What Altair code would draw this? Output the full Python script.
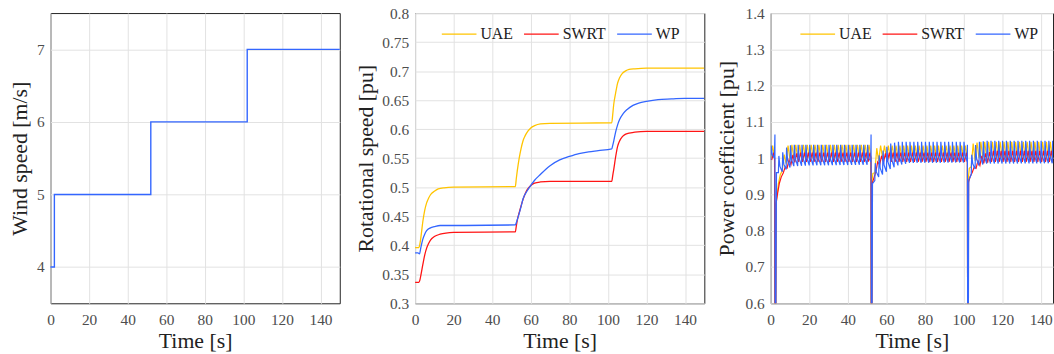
import altair as alt
import numpy as np
import pandas as pd

FONT = "Liberation Serif"
SERIES = ["UAE", "SWRT", "WP"]
COLORS = ["#ffc400", "#ff1414", "#3366ff"]
TIME_TICKS = [0, 20, 40, 60, 80, 100, 120, 140]

# ---- Panel 1: wind speed (step profile) ----
wind_t = [0, 2, 2, 52, 52, 102, 102, 150]
wind_v = [4, 4, 5, 5, 6, 6, 7, 7]

# ---- Panel 2: rotational speed ----
uae_t = [0, 2, 2.5, 3, 4, 5, 6, 7, 8, 10, 12, 15, 20, 52, 52.5, 53, 54, 55, 56, 57, 58, 60, 62, 65, 70,
         102, 102.5, 103, 104, 105, 106, 107.5, 109, 111, 114, 120, 150]
uae_w = [0.396, 0.396, 0.402, 0.413, 0.440, 0.460, 0.473, 0.481, 0.487, 0.493, 0.497, 0.499, 0.500,
         0.501, 0.515, 0.528, 0.550, 0.567, 0.580, 0.588, 0.594, 0.602, 0.606, 0.609, 0.610,
         0.611, 0.625, 0.642, 0.662, 0.679, 0.688, 0.696, 0.700, 0.703, 0.704, 0.705, 0.705]
swrt_t = [0, 2, 2.5, 3, 4, 5, 6, 7, 8, 10, 13, 16, 20, 52, 52.5, 53, 54, 55, 56, 57, 58, 60, 62, 65, 70,
          102, 102.5, 103, 104, 105, 106, 107.5, 109, 111, 114, 120, 150]
swrt_w = [0.336, 0.336, 0.340, 0.348, 0.366, 0.383, 0.395, 0.403, 0.409, 0.415, 0.419, 0.421, 0.422,
          0.423, 0.433, 0.443, 0.456, 0.468, 0.479, 0.488, 0.495, 0.503, 0.507, 0.509, 0.510,
          0.510, 0.520, 0.530, 0.552, 0.570, 0.579, 0.587, 0.591, 0.593, 0.595, 0.596, 0.596]
wp_t = [0, 1.5, 2.3, 3, 4, 5, 6, 8, 10, 13, 16, 20, 52, 52.5, 53, 54, 55, 56, 58, 60, 62, 65, 70, 75,
        80, 85, 90, 95, 102, 102.5, 103, 104, 105, 106, 108, 110, 113, 116, 120, 126, 133, 140, 150]
wp_w = [0.387, 0.387, 0.385, 0.396, 0.410, 0.419, 0.425, 0.430, 0.432, 0.434, 0.434, 0.434,
        0.435, 0.439, 0.444, 0.455, 0.467, 0.480, 0.493, 0.503, 0.512, 0.522, 0.537, 0.547,
        0.553, 0.558, 0.561, 0.563, 0.566, 0.572, 0.579, 0.595, 0.607, 0.616, 0.627, 0.634,
        0.641, 0.645, 0.648, 0.651, 0.652, 0.653, 0.653]

# ---- Panel 3: power coefficient (oscillating) ----
cp_period = 2.0  # oscillation period [s]
uae_env_t = [0, 2.0, 2.8, 4, 5, 6, 7, 8, 9.5, 12, 52, 52.6, 53.5, 54.5, 55.5, 58, 102, 102.6, 103.5, 105, 108, 150]
uae_hi = [1.035, 1.035, 0.875, 0.93, 0.955, 0.985, 1.01, 1.03, 1.037, 1.037, 1.037, 0.94, 0.98, 1.02, 1.035,
          1.035, 1.035, 0.95, 1.0, 1.04, 1.045, 1.045]
uae_lo = [1.0, 1.0, 0.875, 0.93, 0.95, 0.965, 0.975, 0.985, 0.995, 1.0, 1.0, 0.94, 0.95, 0.97, 0.99,
          1.0, 1.0, 0.95, 0.97, 0.99, 1.0, 1.0]
uae_dip_t = [[2.0, 2.3, 2.5, 2.8], [52.0, 52.2, 52.4, 52.6], [102.0, 102.2, 102.4, 102.6]]
uae_dip_v = [[1.0, 0.3, 0.3, 0.875], [1.0, 0.3, 0.3, 0.94], [1.0, 0.3, 0.3, 0.95]]

swrt_env_t = [0, 2.0, 2.8, 3.5, 4, 5, 6, 7.5, 9, 10, 12, 15, 52, 52.6, 53.5, 55, 57, 60, 102, 102.6,
              104.4, 107, 110, 115, 150]
swrt_hi = [1.015, 1.015, 0.875, 0.9, 0.92, 0.942, 0.955, 0.975, 0.99, 1.0, 1.012, 1.015, 1.015, 0.93,
           0.945, 0.985, 1.005, 1.015, 1.015, 0.935, 0.965, 0.99, 1.01, 1.02, 1.02]
swrt_lo = [0.995, 0.995, 0.875, 0.9, 0.92, 0.942, 0.955, 0.968, 0.975, 0.98, 0.988, 0.99, 0.99, 0.93,
           0.945, 0.97, 0.985, 0.99, 0.99, 0.935, 0.96, 0.975, 0.985, 0.99, 0.99]
swrt_dip_t = [[2.0, 2.3, 2.5, 2.8], [52.0, 52.2, 52.4, 52.6], [102.0, 102.2, 102.4, 102.6]]
swrt_dip_v = [[1.0, 0.3, 0.3, 0.875], [1.0, 0.3, 0.3, 0.93], [1.0, 0.3, 0.3, 0.935]]

wp_env_t = [0, 1.9, 3.0, 5, 7, 9, 12, 20, 52, 52.8, 55, 58, 62, 66, 72, 102, 102.7, 103.5, 105, 108,
            112, 150]
wp_hi = [1.035, 1.035, 1.0, 1.01, 1.02, 1.035, 1.037, 1.037, 1.037, 0.96, 1.0, 1.02, 1.04, 1.045, 1.045,
         1.045, 0.95, 0.99, 1.03, 1.045, 1.048, 1.048]
wp_lo = [0.995, 0.995, 0.96, 0.96, 0.965, 0.972, 0.978, 0.98, 0.982, 0.93, 0.945, 0.955, 0.97, 0.98,
         0.987, 0.988, 0.93, 0.95, 0.965, 0.98, 0.985, 0.986]
wp_dip_t = [[1.9, 2.2, 2.3, 2.5, 3.0], [51.9, 52.05, 52.2, 52.4, 52.8], [101.9, 102.0, 102.2, 102.4, 102.7]]
wp_dip_v = [[1.0, 1.065, 0.3, 0.3, 0.96], [0.99, 1.065, 0.3, 0.3, 0.93], [0.99, 1.037, 0.3, 0.3, 0.93]]

# waveform shape within one period: phase and position between lower/upper envelope
uae_phase, uae_level = [0.0, 0.5], [0.0, 1.0]
swrt_phase, swrt_level = [0.25, 0.75], [0.0, 1.0]
wp_phase, wp_level = [0.0, 0.12, 0.4], [0.0, 1.0, 0.35]


def cp_rows(name, env_t, hi, lo, phases, levels, dip_t, dip_v):
    rows = []
    windows = [(min(a), max(a)) for a in dip_t]
    for c in range(int(150 / cp_period) + 2):
        for ph, lv in zip(phases, levels):
            t = (c + ph) * cp_period
            if t > 150:
                continue
            if any(a <= t <= b for a, b in windows):
                continue
            h = float(np.interp(t, env_t, hi))
            l = float(np.interp(t, env_t, lo))
            rows.append({"t": t, "v": l + lv * (h - l), "s": name})
    for ts, vs in zip(dip_t, dip_v):
        for t, v in zip(ts, vs):
            rows.append({"t": t, "v": v, "s": name})
    rows.sort(key=lambda r: r["t"])
    return rows


cp_df = pd.DataFrame(
    cp_rows("UAE", uae_env_t, uae_hi, uae_lo, uae_phase, uae_level, uae_dip_t, uae_dip_v)
    + cp_rows("SWRT", swrt_env_t, swrt_hi, swrt_lo, swrt_phase, swrt_level, swrt_dip_t, swrt_dip_v)
    + cp_rows("WP", wp_env_t, wp_hi, wp_lo, wp_phase, wp_level, wp_dip_t, wp_dip_v)
)

wind_df = pd.DataFrame({"t": wind_t, "v": wind_v, "i": list(range(len(wind_t)))})
rot_df = pd.concat([
    pd.DataFrame({"t": uae_t, "v": uae_w, "s": "UAE"}),
    pd.DataFrame({"t": swrt_t, "v": swrt_w, "s": "SWRT"}),
    pd.DataFrame({"t": wp_t, "v": wp_w, "s": "WP"}),
])

W, H = 292, 293
W3 = 285                      # last panel runs past the right edge of the page
X3_MAX = 150 * W3 / W

AX = dict(labelFont=FONT, labelFontSize=15.5, labelColor="#4d4d4d",
          titleFont=FONT, titleFontSize=22, titleFontWeight="normal", titleColor="#222",
          gridColor="#e2e2e2", gridWidth=1, domain=False, ticks=False)


def xenc(xmax=150):
    return alt.X("t:Q", scale=alt.Scale(domain=[0, xmax], nice=False, zero=False),
                 axis=alt.Axis(values=TIME_TICKS, title="Time [s]", labelFlush=False, format="d",
                               labelPadding=9.5, titlePadding=2.5, **AX))


def yaxis(vals, title, fmt, tpad=4.5):
    return alt.Axis(values=vals, title=title, format=fmt, labelPadding=6.5, titlePadding=tpad, **AX)


def legend(lx):
    return alt.Legend(orient="none", legendX=lx, legendY=2.5, direction="horizontal", title=None,
                      symbolType="stroke", symbolSize=1225, symbolStrokeWidth=1.3,
                      labelFont=FONT, labelFontSize=16, labelColor="#222", labelOffset=3,
                      columnPadding=8, padding=0)


p1 = alt.Chart(wind_df).mark_line(color="#3366ff", strokeWidth=1.4).encode(
    x=xenc(),
    y=alt.Y("v:Q", scale=alt.Scale(domain=[3.5, 7.5], nice=False, zero=False),
            axis=yaxis([4, 5, 6, 7], "Wind speed [m/s]", "d")),
    order=alt.Order("i:Q"),
).properties(width=W, height=H)


def series_layers(df, ytitle, ydom, yvals, yfmt, lx, width, interp, w, xmax, tpad):
    layers = []
    for k, name in enumerate(SERIES):
        enc = dict(
            x=xenc(xmax),
            y=alt.Y("v:Q", scale=alt.Scale(domain=ydom, nice=False, zero=False),
                    axis=yaxis(yvals, ytitle, yfmt, tpad)),
            color=alt.Color("s:N", scale=alt.Scale(domain=SERIES, range=COLORS),
                            legend=legend(lx) if k == 0 else None, sort=SERIES),
        )
        layers.append(
            alt.Chart(df).transform_filter(alt.datum.s == name)
            .mark_line(strokeWidth=width, clip=True, interpolate=interp).encode(**enc)
        )
    return alt.layer(*layers).properties(width=w, height=H)


p2 = series_layers(rot_df, "Rotational speed [pu]", [0.3, 0.8],
                   [0.3, 0.35, 0.4, 0.45, 0.5, 0.55, 0.6, 0.65, 0.7, 0.75, 0.8], ".2~f", 26, 1.3,
                   "monotone", W, 150, 4.5)
p3 = series_layers(cp_df, "Power coefficient [pu]", [0.6, 1.4],
                   [0.6, 0.7, 0.8, 0.9, 1.0, 1.1, 1.2, 1.3, 1.4], ".1~f", 29, 1.2, "linear", W3, X3_MAX,
                   6.5)

chart = alt.hconcat(p1, p2, p3, spacing=10).resolve_scale(color="independent").resolve_legend(
    color="independent"
).properties(
    padding={"left": 8, "top": 3.5, "right": 0, "bottom": 0}
).configure_view(
    stroke="#222", strokeWidth=1
).configure_legend(
    labelFont=FONT
)

chart.save("out.html", embed_options={"renderer": "svg", "actions": False})
